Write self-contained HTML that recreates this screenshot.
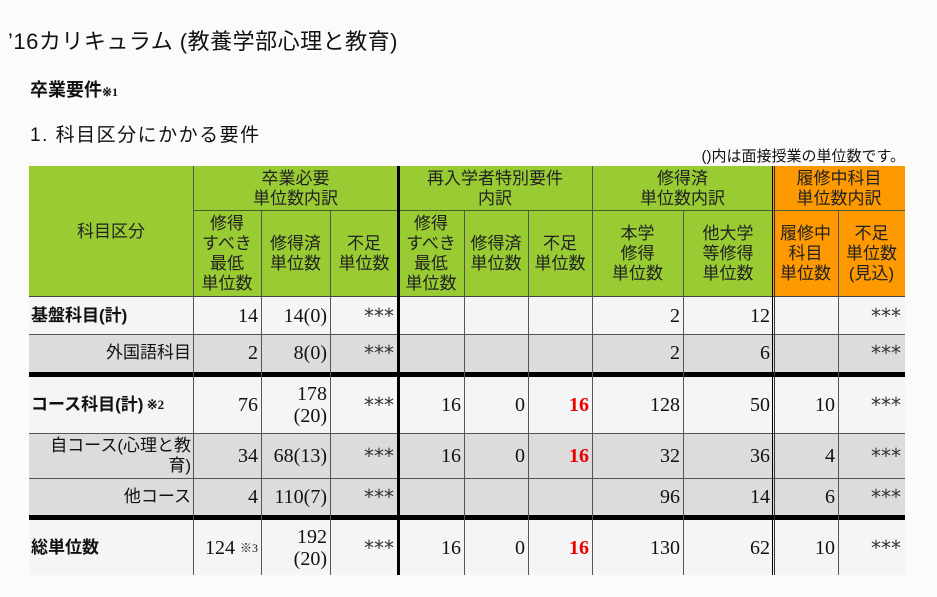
<!DOCTYPE html>
<html><head><meta charset="utf-8"><style>
body{margin:0;width:937px;height:597px;background:#fdfafa;position:relative;overflow:hidden;font-family:"Liberation Sans","Noto Sans CJK JP",sans-serif;color:#111}
.a{position:absolute}
.c{position:absolute;display:flex;align-items:center;box-sizing:border-box}
.h{justify-content:center;text-align:center;font-size:17px;line-height:20px;color:#222}
.n{justify-content:flex-end;padding-right:3px;font-family:"Liberation Serif","Noto Serif CJK SC",serif;font-size:20px;line-height:22px;text-align:right}
.l{font-size:17px;line-height:20px}
.g{background:#99cc33}.o{background:#ff9900}.w{background:#f5f5f5}.d{background:#dcdcdc}
.v{position:absolute;width:1px;background:#555}
.r{color:#e00;font-weight:bold}
.n.s{font-family:"DejaVu Sans",sans-serif;font-size:20px;letter-spacing:0;padding-right:4px;padding-top:8px;color:#333}
</style></head><body>
<div class="a" style="left:8px;top:24px;font-size:22px;letter-spacing:0.5px">&#8217;16カリキュラム (教養学部心理と教育)</div>
<div class="a" style="left:30px;top:76px;font-size:18px;font-weight:bold">卒業要件<span style="font-size:12px;font-family:'Liberation Serif',serif">※1</span></div>
<div class="a" style="left:30px;top:120px;font-size:19px;letter-spacing:1.5px">1. 科目区分にかかる要件</div>
<div class="a" style="right:32px;top:145px;font-size:15px">()内は面接授業の単位数です。</div>

<div class="c h g" style="left:29px;top:166px;width:164px;height:131px">科目区分</div>
<div class="c h g" style="left:193px;top:166px;width:205px;height:45px">卒業必要<br>単位数内訳</div>
<div class="c h g" style="left:398px;top:166px;width:194px;height:45px">再入学者特別要件<br>内訳</div>
<div class="c h g" style="left:592px;top:166px;width:181px;height:45px">修得済<br>単位数内訳</div>
<div class="c h o" style="left:773px;top:166px;width:132px;height:45px">履修中科目<br>単位数内訳</div>
<div class="c h g" style="left:193px;top:211px;width:68px;height:86px">修得<br>すべき<br>最低<br>単位数</div>
<div class="c h g" style="left:261px;top:211px;width:69px;height:86px">修得済<br>単位数</div>
<div class="c h g" style="left:330px;top:211px;width:68px;height:86px">不足<br>単位数</div>
<div class="c h g" style="left:398px;top:211px;width:66px;height:86px">修得<br>すべき<br>最低<br>単位数</div>
<div class="c h g" style="left:464px;top:211px;width:64px;height:86px">修得済<br>単位数</div>
<div class="c h g" style="left:528px;top:211px;width:64px;height:86px">不足<br>単位数</div>
<div class="c h g" style="left:592px;top:211px;width:91px;height:86px">本学<br>修得<br>単位数</div>
<div class="c h g" style="left:683px;top:211px;width:90px;height:86px">他大学<br>等修得<br>単位数</div>
<div class="c h o" style="left:773px;top:211px;width:65px;height:86px">履修中<br>科目<br>単位数</div>
<div class="c h o" style="left:838px;top:211px;width:67px;height:86px">不足<br>単位数<br>(見込)</div>

<div class="a w" style="left:29px;top:297px;width:876px;height:37px"></div>
<div class="a d" style="left:29px;top:334px;width:876px;height:38px"></div>
<div class="a w" style="left:29px;top:377px;width:876px;height:56px"></div>
<div class="a d" style="left:29px;top:433px;width:876px;height:82px"></div>
<div class="a w" style="left:29px;top:520px;width:876px;height:55px"></div>

<div class="a" style="left:193px;top:210px;width:712px;height:1px;background:#4a5a2a"></div>
<div class="a" style="left:29px;top:296px;width:876px;height:1px;background:#444"></div>
<div class="a" style="left:29px;top:334px;width:876px;height:1px;background:#555"></div>
<div class="a" style="left:29px;top:372px;width:876px;height:5px;background:#000"></div>
<div class="a" style="left:29px;top:433px;width:876px;height:1px;background:#555"></div>
<div class="a" style="left:29px;top:478px;width:876px;height:1px;background:#555"></div>
<div class="a" style="left:29px;top:515px;width:876px;height:5px;background:#000"></div>

<div class="v" style="left:193px;top:166px;height:409px"></div>
<div class="v" style="left:261px;top:211px;height:364px"></div>
<div class="v" style="left:330px;top:211px;height:364px"></div>
<div class="a" style="left:397px;top:166px;width:3px;height:409px;background:#000"></div>
<div class="v" style="left:464px;top:211px;height:364px"></div>
<div class="v" style="left:528px;top:211px;height:364px"></div>
<div class="v" style="left:592px;top:166px;height:409px"></div>
<div class="v" style="left:683px;top:211px;height:364px"></div>
<div class="a" style="left:772px;top:166px;width:1px;height:409px;background:#000"></div>
<div class="a" style="left:774px;top:166px;width:1px;height:409px;background:#333"></div>
<div class="v" style="left:838px;top:211px;height:364px"></div>

<div class="c l" style="left:31px;top:297px;width:162px;height:37px;font-weight:bold">基盤科目(計)</div>
<div class="c n" style="left:193px;top:297px;width:68px;height:37px">14</div>
<div class="c n" style="left:261px;top:297px;width:69px;height:37px">14(0)</div>
<div class="c n s" style="left:330px;top:293px;width:68px;height:37px">***</div>
<div class="c n" style="left:592px;top:297px;width:91px;height:37px">2</div>
<div class="c n" style="left:683px;top:297px;width:90px;height:37px">12</div>
<div class="c n s" style="left:838px;top:293px;width:67px;height:37px">***</div>

<div class="c l" style="left:29px;top:334px;width:162px;height:38px;justify-content:flex-end">外国語科目</div>
<div class="c n" style="left:193px;top:334px;width:68px;height:38px">2</div>
<div class="c n" style="left:261px;top:334px;width:69px;height:38px">8(0)</div>
<div class="c n s" style="left:330px;top:330px;width:68px;height:38px">***</div>
<div class="c n" style="left:592px;top:334px;width:91px;height:38px">2</div>
<div class="c n" style="left:683px;top:334px;width:90px;height:38px">6</div>
<div class="c n s" style="left:838px;top:330px;width:67px;height:38px">***</div>

<div class="c l" style="left:31px;top:377px;width:162px;height:56px;font-weight:bold">コース科目(計) <span style="font-size:13px;font-family:'Liberation Serif',serif">&nbsp;※2</span></div>
<div class="c n" style="left:193px;top:377px;width:68px;height:56px">76</div>
<div class="c n" style="left:261px;top:377px;width:69px;height:56px">178<br>(20)</div>
<div class="c n s" style="left:330px;top:373px;width:68px;height:56px">***</div>
<div class="c n" style="left:400px;top:377px;width:64px;height:56px">16</div>
<div class="c n" style="left:464px;top:377px;width:64px;height:56px">0</div>
<div class="c n r" style="left:528px;top:377px;width:64px;height:56px">16</div>
<div class="c n" style="left:592px;top:377px;width:91px;height:56px">128</div>
<div class="c n" style="left:683px;top:377px;width:90px;height:56px">50</div>
<div class="c n" style="left:775px;top:377px;width:63px;height:56px">10</div>
<div class="c n s" style="left:838px;top:373px;width:67px;height:56px">***</div>

<div class="c l" style="left:29px;top:433px;width:162px;height:45px;justify-content:flex-end;text-align:right">自コース(心理と教<br>育)</div>
<div class="c n" style="left:193px;top:433px;width:68px;height:45px">34</div>
<div class="c n" style="left:261px;top:433px;width:69px;height:45px">68(13)</div>
<div class="c n s" style="left:330px;top:429px;width:68px;height:45px">***</div>
<div class="c n" style="left:400px;top:433px;width:64px;height:45px">16</div>
<div class="c n" style="left:464px;top:433px;width:64px;height:45px">0</div>
<div class="c n r" style="left:528px;top:433px;width:64px;height:45px">16</div>
<div class="c n" style="left:592px;top:433px;width:91px;height:45px">32</div>
<div class="c n" style="left:683px;top:433px;width:90px;height:45px">36</div>
<div class="c n" style="left:775px;top:433px;width:63px;height:45px">4</div>
<div class="c n s" style="left:838px;top:429px;width:67px;height:45px">***</div>

<div class="c l" style="left:29px;top:478px;width:162px;height:37px;justify-content:flex-end">他コース</div>
<div class="c n" style="left:193px;top:478px;width:68px;height:37px">4</div>
<div class="c n" style="left:261px;top:478px;width:69px;height:37px">110(7)</div>
<div class="c n s" style="left:330px;top:474px;width:68px;height:37px">***</div>
<div class="c n" style="left:592px;top:478px;width:91px;height:37px">96</div>
<div class="c n" style="left:683px;top:478px;width:90px;height:37px">14</div>
<div class="c n" style="left:775px;top:478px;width:63px;height:37px">6</div>
<div class="c n s" style="left:838px;top:474px;width:67px;height:37px">***</div>

<div class="c l" style="left:31px;top:520px;width:162px;height:55px;font-weight:bold">総単位数</div>
<div class="c n" style="left:193px;top:520px;width:68px;height:55px">124&nbsp;<span style="font-size:12px">※3</span></div>
<div class="c n" style="left:261px;top:520px;width:69px;height:55px">192<br>(20)</div>
<div class="c n s" style="left:330px;top:516px;width:68px;height:55px">***</div>
<div class="c n" style="left:400px;top:520px;width:64px;height:55px">16</div>
<div class="c n" style="left:464px;top:520px;width:64px;height:55px">0</div>
<div class="c n r" style="left:528px;top:520px;width:64px;height:55px">16</div>
<div class="c n" style="left:592px;top:520px;width:91px;height:55px">130</div>
<div class="c n" style="left:683px;top:520px;width:90px;height:55px">62</div>
<div class="c n" style="left:775px;top:520px;width:63px;height:55px">10</div>
<div class="c n s" style="left:838px;top:516px;width:67px;height:55px">***</div>
</body></html>
